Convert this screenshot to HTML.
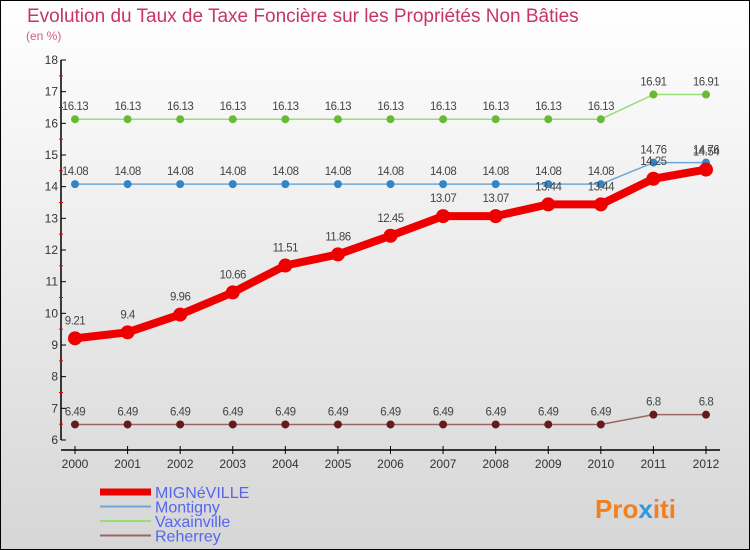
<!DOCTYPE html>
<html><head><meta charset="utf-8"><style>
body{margin:0;width:750px;height:550px;overflow:hidden;font-family:"Liberation Sans",sans-serif}
#c{position:absolute;left:0;top:0;width:748px;height:548px;border:1px solid #000;background:linear-gradient(#fff,#d6d6d6)}
</style></head><body>
<div id="c">
<svg id="s" width="750" height="550" style="position:absolute;left:-1px;top:-1px">
<text x="27" y="22" font-size="19" fill="#c8336a">Evolution du Taux de Taxe Foncière sur les Propriétés Non Bâties</text>
<text x="26" y="40" font-size="12" fill="#d06080">(en %)</text>
<g id="g"></g>
<text x="595" y="518" font-size="26" font-weight="bold" fill="#f08020">Pro<tspan fill="#3399dd">x</tspan>iti</text>
</svg></div>
<script>
const years=[2000,2001,2002,2003,2004,2005,2006,2007,2008,2009,2010,2011,2012];
const yTicks=[6,7,8,9,10,11,12,13,14,15,16,17,18];
const migneville=[9.21,9.4,9.96,10.66,11.51,11.86,12.45,13.07,13.07,13.44,13.44,14.25,14.54];
const montigny=[14.08,14.08,14.08,14.08,14.08,14.08,14.08,14.08,14.08,14.08,14.08,14.76,14.76];
const vaxainville=[16.13,16.13,16.13,16.13,16.13,16.13,16.13,16.13,16.13,16.13,16.13,16.91,16.91];
const reherrey=[6.49,6.49,6.49,6.49,6.49,6.49,6.49,6.49,6.49,6.49,6.49,6.8,6.8];
const names=["MIGNéVILLE","Montigny","Vaxainville","Reherrey"];
const NS="http://www.w3.org/2000/svg",g=document.getElementById('g');
const X=i=>75+i*(706-75)/(years.length-1);
const Y=v=>440-(v-6)*(380/12);
function el(t,a,txt){const e=document.createElementNS(NS,t);for(const k in a)e.setAttribute(k,a[k]);if(txt!==undefined)e.textContent=txt;g.appendChild(e);return e;}
let ax=el('line',{x1:61,y1:Y(18),x2:61,y2:Y(6),stroke:'#000','stroke-width':1.5});


yTicks.forEach(v=>{
 let t=el('line',{x1:61,x2:66,y1:Y(v),y2:Y(v),stroke:'#000'});
 
 
 if(v<18){let m=el('line',{x1:59,x2:63,y1:Y(v+0.5),y2:Y(v+0.5),stroke:'#e00'});
 
 }
 let l=el('text',{x:58,y:Y(v)+4,'font-size':12,fill:'#333','text-anchor':'end'},v);
 
 
});
let xa=el('line',{x1:61,y1:450,x2:720,y2:450,stroke:'#000','stroke-width':1.5});


years.forEach((y,i)=>{
 let t=el('line',{x1:X(i),x2:X(i),y1:446,y2:454,stroke:'#000'});
 
 
 let l=el('text',{x:X(i),y:468,'font-size':12,fill:'#333','text-anchor':'middle'},y);
 
 
});
const series=[[reherrey,'#996666','#661a1a',1.5,4],[vaxainville,'#99dd77','#66bb33',1.5,4],[montigny,'#6fa8d8','#3385c6',1.5,4],[migneville,'#ee0000','#ee0000',8,7]];
const snames=['reherrey','vaxainville','montigny','migneville'];
series.forEach((s,si)=>{
 const d=s[0];
 let p=el('polyline',{points:d.map((v,i)=>X(i)+','+Y(v)).join(' '),fill:'none',stroke:s[1],'stroke-width':s[3],'stroke-linejoin':'round'});
 
 
 d.forEach((v,i)=>{
  let c=el('circle',{cx:X(i),cy:Y(v),r:s[4],fill:s[2]});
  
  
  let t=el('text',{x:X(i),y:Y(v)-(si==3?14:9),'font-size':11.5,fill:'#444','text-anchor':'middle','letter-spacing':'-0.5'},String(v));
  
  
 });
});
const lc=['#ee0000','#6fa8d8','#99dd77','#996666'],lw=[7,2,2,2];
names.forEach((n,i)=>{
 let l=el('line',{x1:100,x2:151,y1:492+i*14.5,y2:492+i*14.5,stroke:lc[i],'stroke-width':lw[i]});
 
 
 let t=el('text',{x:155,y:498+i*14.5,'font-size':16,fill:'#5566ee'},n);
 
 
});
</script></body></html>
